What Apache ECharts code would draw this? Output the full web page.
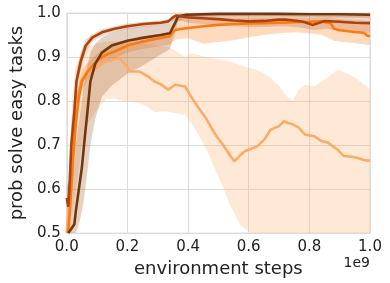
<!DOCTYPE html>
<html>
<head>
<meta charset="utf-8">
<script src="https://cdn.jsdelivr.net/npm/echarts@6/dist/echarts.min.js"></script>
<style>html,body{margin:0;padding:0;background:#fff}#c{width:390px;height:283px}</style>
</head>
<body>
<div id="c"></div>
<script>
// ---- data (x in units of 1e9 environment steps) ----
var xTicks = [0.0, 0.2, 0.4, 0.6, 0.8, 1.0];
var yTicks = [0.5, 0.6, 0.7, 0.8, 0.9, 1.0];

// darkest brown run
var darkX  = [0.005,0.015,0.025,0.03,0.04,0.05,0.057,0.068,0.078,0.094,0.116,0.148,0.2,0.254,0.31,0.34,0.357,0.367,0.394,0.5,0.6,0.7,0.8,0.9,1.0];
var darkY  = [0.50,0.51,0.52,0.55,0.60,0.65,0.70,0.775,0.845,0.885,0.910,0.926,0.937,0.944,0.950,0.954,0.977,0.992,0.996,0.998,0.998,0.998,0.997,0.997,0.996];
var darkLo = [0.49,0.49,0.49,0.50,0.52,0.55,0.58,0.64,0.70,0.76,0.81,0.835,0.862,0.882,0.906,0.918,0.955,0.980,0.990,0.992,0.992,0.992,0.991,0.990,0.989];
var darkHi = [0.55,0.60,0.66,0.70,0.75,0.80,0.84,0.88,0.91,0.93,0.945,0.955,0.965,0.970,0.973,0.976,0.990,0.997,0.999,1.0,1.0,1.0,1.0,1.0,1.0];

// rust run
var rustX  = [0.0,0.005,0.01,0.015,0.025,0.032,0.046,0.062,0.084,0.116,0.158,0.2,0.254,0.31,0.335,0.35,0.36,0.4,0.45,0.5,0.55,0.6,0.65,0.7,0.72,0.75,0.78,0.81,0.83,0.85,0.9,0.95,1.0];
var rustY  = [0.58,0.56,0.62,0.70,0.775,0.845,0.89,0.925,0.944,0.956,0.964,0.970,0.975,0.978,0.981,0.990,0.994,0.990,0.988,0.986,0.983,0.981,0.982,0.985,0.985,0.983,0.980,0.973,0.977,0.982,0.980,0.978,0.977];
var rustLo = [0.53,0.52,0.57,0.65,0.74,0.82,0.87,0.91,0.935,0.948,0.957,0.963,0.968,0.972,0.975,0.982,0.986,0.978,0.975,0.972,0.970,0.968,0.968,0.970,0.970,0.968,0.966,0.962,0.962,0.964,0.962,0.958,0.955];
var rustHi = [0.62,0.60,0.68,0.75,0.81,0.87,0.91,0.94,0.952,0.963,0.970,0.976,0.980,0.983,0.986,0.995,0.998,0.998,0.997,0.997,0.996,0.995,0.995,0.996,0.996,0.995,0.994,0.992,0.993,0.994,0.994,0.994,0.994];

// orange run
var orX  = [0.005,0.012,0.02,0.03,0.04,0.05,0.068,0.084,0.105,0.126,0.169,0.2,0.25,0.3,0.34,0.35,0.36,0.4,0.45,0.5,0.55,0.6,0.65,0.7,0.75,0.8,0.84,0.87,0.88,0.9,0.95,0.98,0.99,1.0];
var orY  = [0.50,0.57,0.66,0.75,0.81,0.845,0.866,0.880,0.894,0.904,0.916,0.926,0.935,0.942,0.947,0.957,0.962,0.966,0.970,0.973,0.975,0.976,0.977,0.978,0.979,0.980,0.981,0.977,0.965,0.961,0.957,0.955,0.949,0.947];
var orLo = [0.49,0.54,0.62,0.71,0.78,0.82,0.848,0.862,0.876,0.887,0.900,0.910,0.918,0.924,0.928,0.935,0.940,0.943,0.930,0.934,0.938,0.945,0.950,0.954,0.956,0.954,0.950,0.942,0.937,0.935,0.931,0.929,0.928,0.928];
var orHi = [0.52,0.61,0.70,0.79,0.84,0.87,0.885,0.897,0.910,0.920,0.930,0.938,0.945,0.952,0.958,0.975,0.985,0.988,0.990,0.990,0.990,0.990,0.990,0.990,0.990,0.990,0.990,0.990,0.988,0.986,0.984,0.983,0.982,0.982];

// light orange run
var ltX  = [0.0,0.01,0.02,0.03,0.05,0.07,0.1,0.13,0.16,0.175,0.19,0.21,0.24,0.27,0.29,0.31,0.335,0.357,0.39,0.41,0.431,0.46,0.486,0.518,0.54,0.552,0.57,0.587,0.61,0.63,0.652,0.672,0.7,0.716,0.73,0.745,0.764,0.785,0.8,0.817,0.84,0.86,0.88,0.893,0.913,0.935,0.957,0.98,1.0];
var ltY  = [0.50,0.60,0.72,0.80,0.85,0.87,0.880,0.890,0.895,0.898,0.885,0.867,0.867,0.855,0.844,0.838,0.826,0.837,0.833,0.810,0.788,0.760,0.728,0.698,0.675,0.663,0.675,0.686,0.692,0.698,0.713,0.735,0.743,0.754,0.750,0.747,0.740,0.724,0.722,0.720,0.709,0.706,0.696,0.690,0.675,0.674,0.671,0.666,0.664];
var ltLo = [0.49,0.52,0.55,0.60,0.70,0.75,0.78,0.805,0.805,0.802,0.800,0.798,0.796,0.785,0.774,0.776,0.776,0.772,0.769,0.750,0.728,0.690,0.650,0.600,0.560,0.547,0.520,0.510,0.500,0.495,0.490,0.485,0.480,0.478,0.475,0.472,0.470,0.468,0.466,0.464,0.462,0.460,0.458,0.456,0.455,0.454,0.452,0.451,0.450];
var ltHi = [0.50,0.70,0.82,0.88,0.91,0.925,0.930,0.935,0.935,0.935,0.935,0.935,0.932,0.930,0.928,0.925,0.922,0.915,0.900,0.909,0.905,0.900,0.897,0.893,0.889,0.887,0.882,0.878,0.874,0.870,0.862,0.853,0.835,0.820,0.808,0.800,0.825,0.837,0.835,0.833,0.845,0.853,0.865,0.871,0.866,0.860,0.850,0.838,0.826];

var runs = [
  {x: ltX,   y: ltY,   lo: ltLo,   hi: ltHi,   color: '#fdab68', band: 'rgba(253,174,107,0.27)'},
  {x: orX,   y: orY,   lo: orLo,   hi: orHi,   color: '#fb7a12', band: 'rgba(250,125,25,0.28)'},
  {x: darkX, y: darkY, lo: darkLo, hi: darkHi, color: '#74360b', band: 'rgba(150,80,30,0.26)'},
  {x: rustX, y: rustY, lo: rustLo, hi: rustHi, color: '#ad420a', band: 'rgba(170,70,15,0.22)'}
];

function pairs(xs, ys) { return xs.map(function (v, i) { return [v, ys[i]]; }); }
function triples(xs, lo, hi) { return xs.map(function (v, i) { return [v, lo[i], hi[i]]; }); }

var series = [];
runs.forEach(function (r, k) {
  var d = triples(r.x, r.lo, r.hi);
  series.push({
    type: 'custom', data: d, clip: true, silent: true, z: 1, animation: false,
    encode: {x: 0, y: [1, 2]},
    renderItem: function (params, api) {
      if (params.dataIndex !== 0) return null;
      var upper = [], lower = [];
      for (var i = 0; i < d.length; i++) {
        upper.push(api.coord([d[i][0], d[i][2]]));
        lower.push(api.coord([d[i][0], d[i][1]]));
      }
      var pts = upper.concat(lower.reverse());
      return {type: 'polygon', shape: {points: pts}, style: {fill: r.band}};
    }
  });
});
runs.forEach(function (r, k) {
  series.push({
    type: 'line', data: pairs(r.x, r.y), symbol: 'none',
    lineStyle: {color: r.color, width: 2.6}, z: 3 + k, animation: false
  });
});

var chart = echarts.init(document.getElementById('c'), null, {renderer: 'canvas'});
chart.setOption({
  animation: false,
  grid: {left: 59, right: 20, top: 13, bottom: 49, show: true, borderColor: '#dcdcdc', borderWidth: 1},
  xAxis: {
    type: 'value', min: 0, max: 1, interval: 0.2,
    name: 'environment steps', nameLocation: 'middle', nameGap: 19,
    nameTextStyle: {fontFamily: 'DejaVu Sans', fontSize: 18, color: '#222'},
    axisLine: {show: false}, axisTick: {show: false},
    splitLine: {show: true, lineStyle: {color: '#dcdcdc', width: 1}},
    axisLabel: {fontFamily: 'DejaVu Sans', fontSize: 15, color: '#222', margin: 7,
      formatter: function (v) { return v.toFixed(1); }}
  },
  yAxis: {
    type: 'value', min: 0.5, max: 1.0, interval: 0.1,
    name: 'prob solve easy tasks', nameLocation: 'middle', nameGap: 33, nameRotate: 90,
    nameTextStyle: {fontFamily: 'DejaVu Sans', fontSize: 18, color: '#222'},
    axisLine: {show: false}, axisTick: {show: false},
    splitLine: {show: true, lineStyle: {color: '#dcdcdc', width: 1}},
    axisLabel: {fontFamily: 'DejaVu Sans', fontSize: 15, color: '#222', margin: 6,
      formatter: function (v) { return v.toFixed(1); }}
  },
  graphic: [{
    type: 'text', right: 20, top: 256,
    style: {text: '1e9', fontFamily: 'DejaVu Sans', fontSize: 14, fill: '#222', textAlign: 'right'}
  }],
  series: series
});
</script>
</body>
</html>
